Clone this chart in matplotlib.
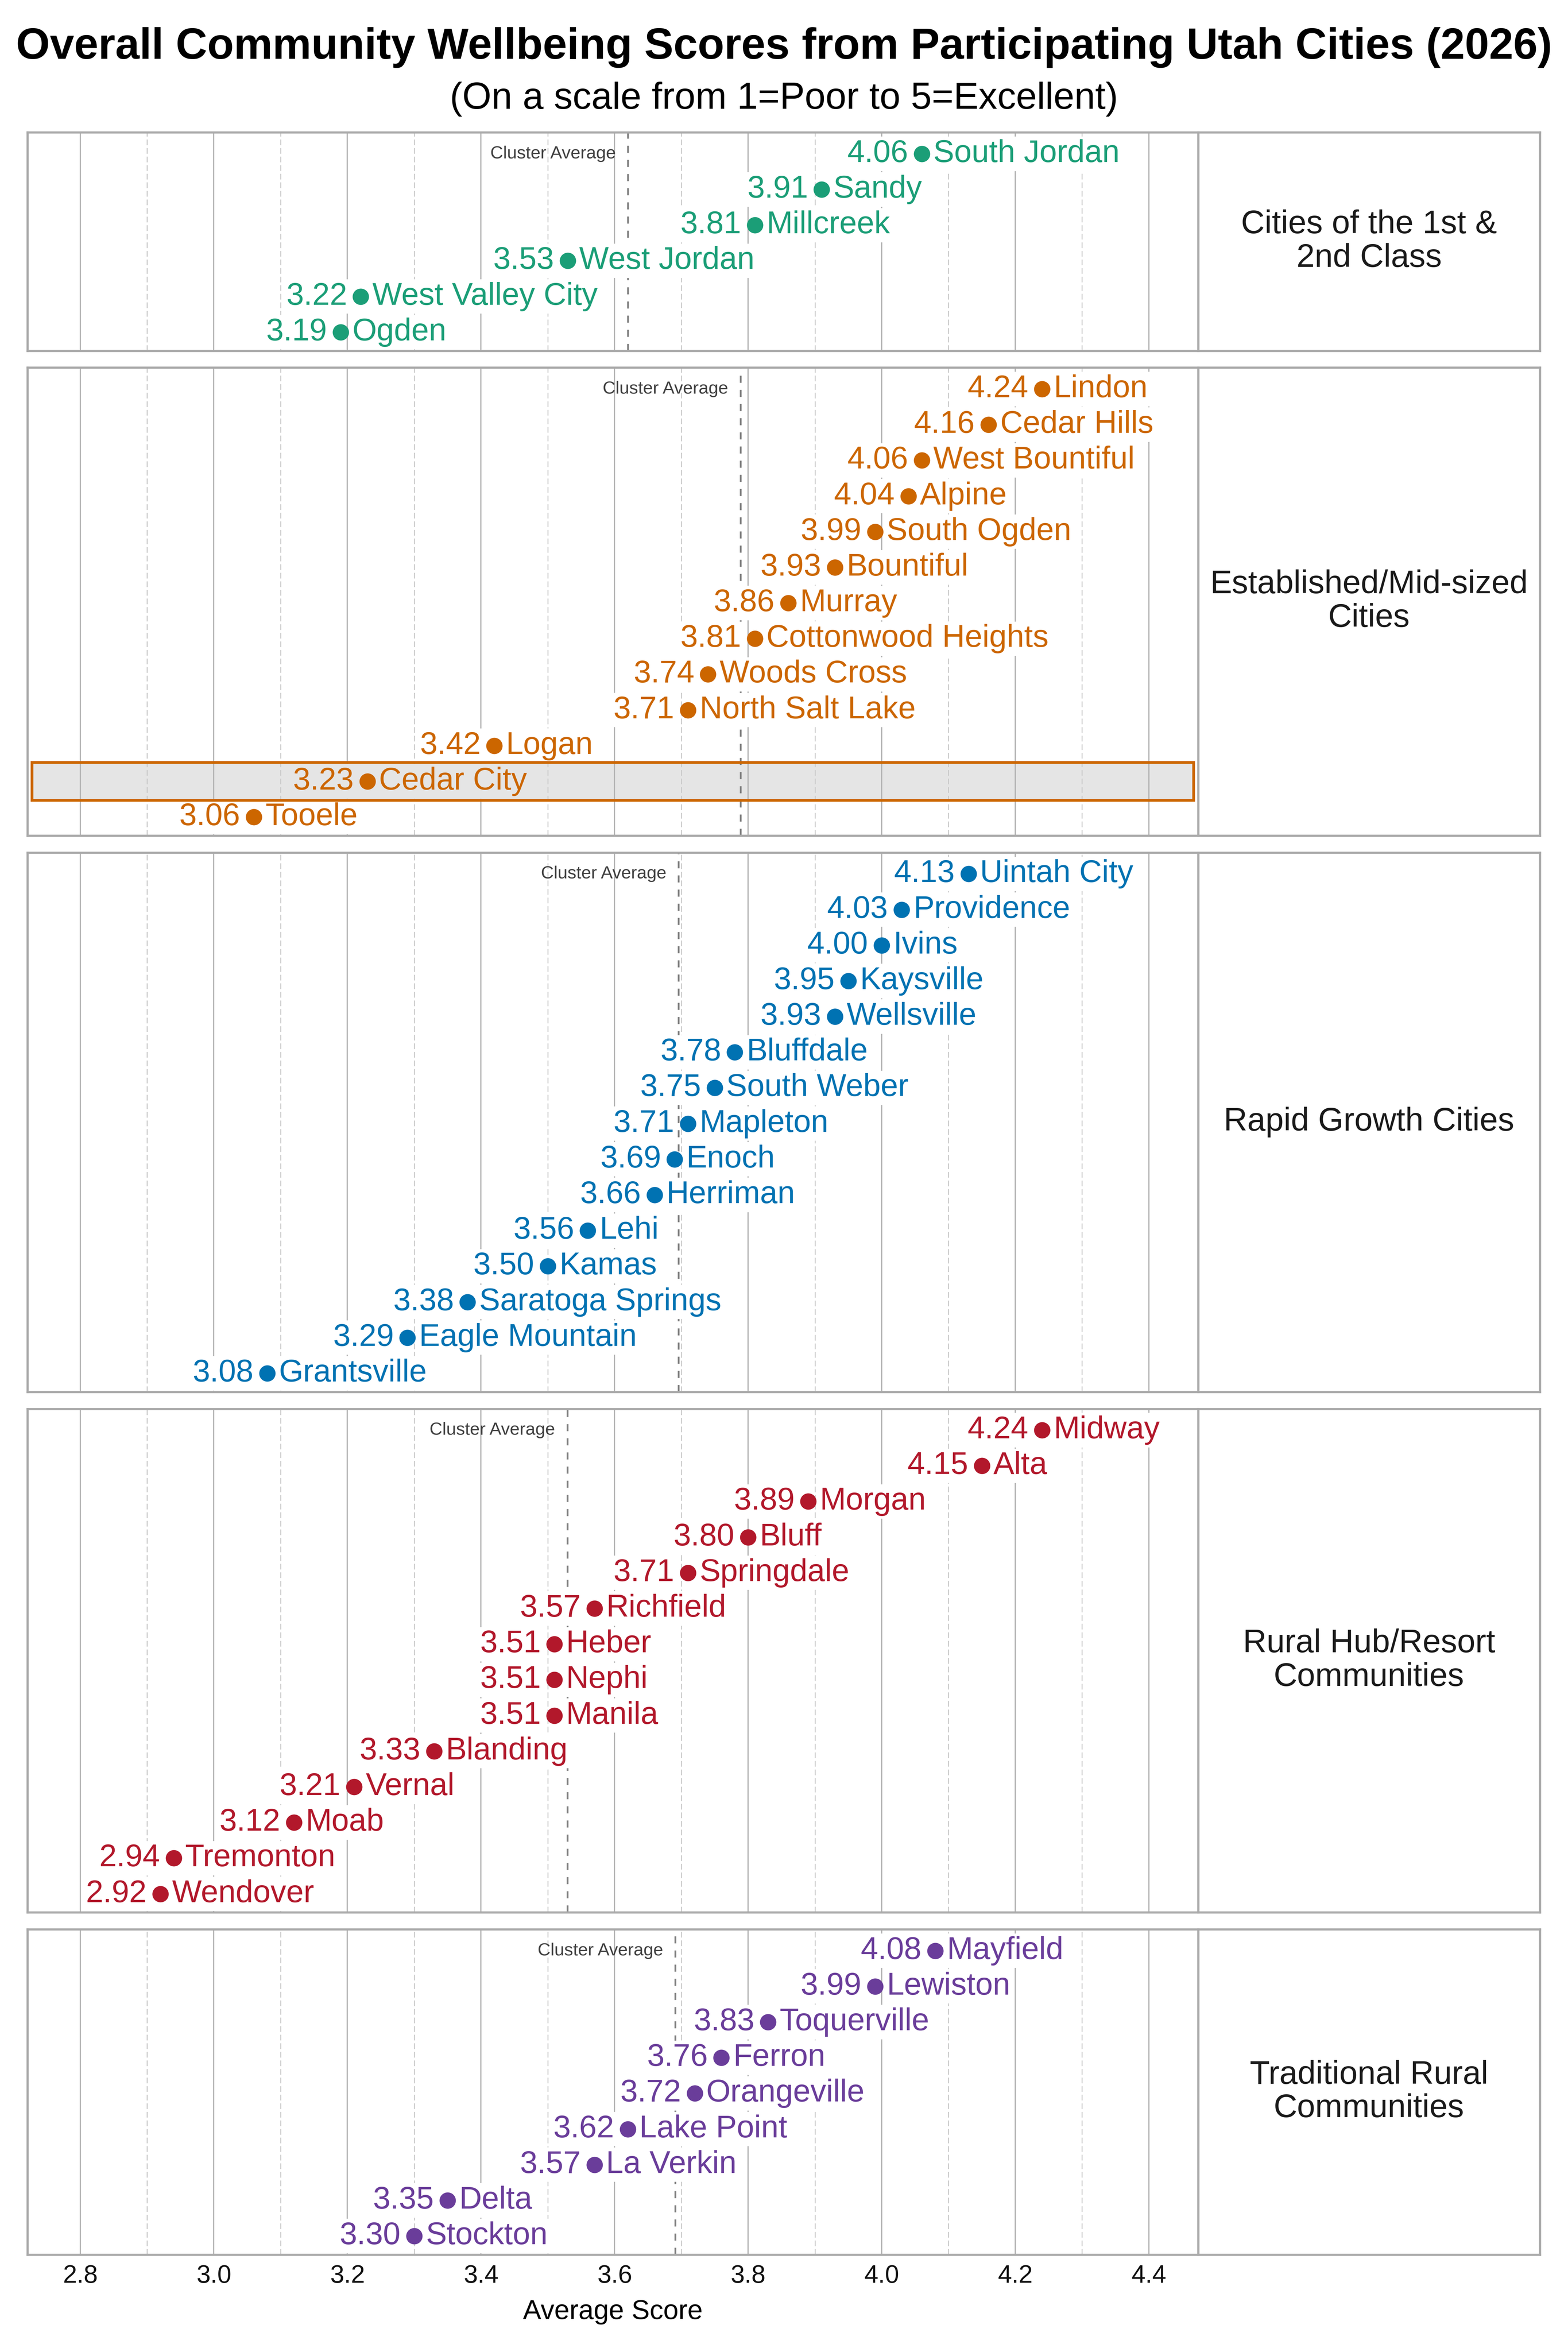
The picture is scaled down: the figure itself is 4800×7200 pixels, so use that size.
#%% Utah community wellbeing dot chart, one panel per city cluster
import numpy as np
import matplotlib
matplotlib.use('Agg')
import matplotlib.pyplot as plt

plt.rcParams['font.family'] = ['Liberation Sans', 'DejaVu Sans']

#%% Data
cluster_names = ['Cities of the 1st &\n2nd Class',
                 'Established/Mid-sized\nCities',
                 'Rapid Growth Cities',
                 'Rural Hub/Resort\nCommunities',
                 'Traditional Rural\nCommunities']

cities_1st = ['South Jordan', 'Sandy', 'Millcreek', 'West Jordan', 'West Valley City', 'Ogden']
scores_1st = [4.06, 3.91, 3.81, 3.53, 3.22, 3.19]

cities_est = ['Lindon', 'Cedar Hills', 'West Bountiful', 'Alpine', 'South Ogden', 'Bountiful',
              'Murray', 'Cottonwood Heights', 'Woods Cross', 'North Salt Lake', 'Logan',
              'Cedar City', 'Tooele']
scores_est = [4.24, 4.16, 4.06, 4.04, 3.99, 3.93, 3.86, 3.81, 3.74, 3.71, 3.42, 3.23, 3.06]

cities_rapid = ['Uintah City', 'Providence', 'Ivins', 'Kaysville', 'Wellsville', 'Bluffdale',
                'South Weber', 'Mapleton', 'Enoch', 'Herriman', 'Lehi', 'Kamas',
                'Saratoga Springs', 'Eagle Mountain', 'Grantsville']
scores_rapid = [4.13, 4.03, 4.00, 3.95, 3.93, 3.78, 3.75, 3.71, 3.69, 3.66, 3.56, 3.50,
                3.38, 3.29, 3.08]

cities_hub = ['Midway', 'Alta', 'Morgan', 'Bluff', 'Springdale', 'Richfield', 'Heber',
              'Nephi', 'Manila', 'Blanding', 'Vernal', 'Moab', 'Tremonton', 'Wendover']
scores_hub = [4.24, 4.15, 3.89, 3.80, 3.71, 3.57, 3.51, 3.51, 3.51, 3.33, 3.21, 3.12,
              2.94, 2.92]

cities_trad = ['Mayfield', 'Lewiston', 'Toquerville', 'Ferron', 'Orangeville', 'Lake Point',
               'La Verkin', 'Delta', 'Stockton']
scores_trad = [4.08, 3.99, 3.83, 3.76, 3.72, 3.62, 3.57, 3.35, 3.30]

cluster_colors = ['#1b9e77', '#cc6600', '#0072b2', '#b2182b', '#6a3d9a']
highlight_city = 'Cedar City'

panels = [(cities_1st, scores_1st), (cities_est, scores_est), (cities_rapid, scores_rapid),
          (cities_hub, scores_hub), (cities_trad, scores_trad)]

#%% Layout
fig = plt.figure(figsize=(16, 24), dpi=300)

left, right_plot, right_strip = 0.0175, 0.7642, 0.982
top, bottom, gap = 0.9437, 0.0414, 0.0072
counts = [len(c) for c, s in panels]
unit = (top - bottom - gap * (len(panels) - 1)) / sum(n + 0.12 for n in counts)

spine_col = '#aaaaaa'
y_top = top
for k, (cities, scores) in enumerate(panels):
    n = len(cities)
    h = (n + 0.12) * unit
    y0 = y_top - h
    ax = fig.add_axes([left, y0, right_plot - left, h])
    strip = fig.add_axes([right_plot, y0, right_strip - right_plot, h])
    y_top = y0 - gap
    col = cluster_colors[k]

    # grid
    ax.set_xlim(2.721, 4.474)
    ax.set_ylim(n - 1 + 0.52, -0.60)
    ax.set_xticks(np.round(np.arange(2.8, 4.41, 0.2), 1))
    ax.set_xticks(np.round(np.arange(2.9, 4.31, 0.2), 1), minor=True)
    ax.set_yticks([])
    ax.set_axisbelow(True)
    ax.grid(which='major', axis='x', color='#b3b3b3', lw=0.9)
    ax.grid(which='minor', axis='x', color='#c8c8c8', lw=0.7, ls=(0, (6, 3)))
    ax.tick_params(axis='x', which='both', length=0, labelsize=18.5, pad=7, labelcolor='#111111')
    if k < len(panels) - 1:
        ax.tick_params(axis='x', labelbottom=False)
    for sp in ax.spines.values():
        sp.set_color(spine_col)
        sp.set_linewidth(1.6)

    # cluster average
    avg = np.mean(scores)
    ax.axvline(avg, color='#808080', lw=1.3, ls=(0, (4, 4)), zorder=1)
    ax.annotate('Cluster Average', (avg, 0), xytext=(-9, 0), textcoords='offset points',
                ha='right', va='center', fontsize=13, color='#404040', zorder=1)

    # dots and labels
    for i, (city, s) in enumerate(zip(cities, scores)):
        box_fc = 'white'
        if city == highlight_city:
            box_fc = '#e5e5e5'
            ax.axhspan(i - 0.53, i + 0.53, xmin=0.004, xmax=0.996, fc='#e5e5e5', ec='none', zorder=0.3)
            ax.axhspan(i - 0.53, i + 0.53, xmin=0.004, xmax=0.996, fc='none', ec=col, lw=2.0, zorder=3.5)
        ax.plot(s, i, 'o', ms=12, color=col, mec='none', zorder=4)
        ax.annotate(f'{s:.2f}', (s, i), xytext=(-10, 0), textcoords='offset points',
                    ha='right', va='center', fontsize=23, color=col, zorder=3,
                    bbox=dict(boxstyle='square,pad=0.08', fc=box_fc, ec='none'))
        ax.annotate(city, (s, i), xytext=(8.5, 0), textcoords='offset points',
                    ha='left', va='center', fontsize=23, color=col, zorder=3,
                    bbox=dict(boxstyle='square,pad=0.08', fc=box_fc, ec='none'))

    # facet label on the right
    strip.set_xticks([])
    strip.set_yticks([])
    for sp in strip.spines.values():
        sp.set_color(spine_col)
        sp.set_linewidth(1.6)
    strip.text(0.5, 0.5, cluster_names[k], transform=strip.transAxes, ha='center', va='center',
               fontsize=24, color='#1a1a1a', linespacing=1.12)

#%% Titles
fig.text(0.5, 0.975, 'Overall Community Wellbeing Scores from Participating Utah Cities (2026)',
         ha='center', va='baseline', fontsize=32, fontweight='bold')
fig.text(0.5, 0.9538, '(On a scale from 1=Poor to 5=Excellent)',
         ha='center', va='baseline', fontsize=27.5)
fig.text((left + right_plot) / 2, 0.014, 'Average Score', ha='center', va='baseline', fontsize=20)

fig.savefig('out.png', dpi=300, facecolor='white')
